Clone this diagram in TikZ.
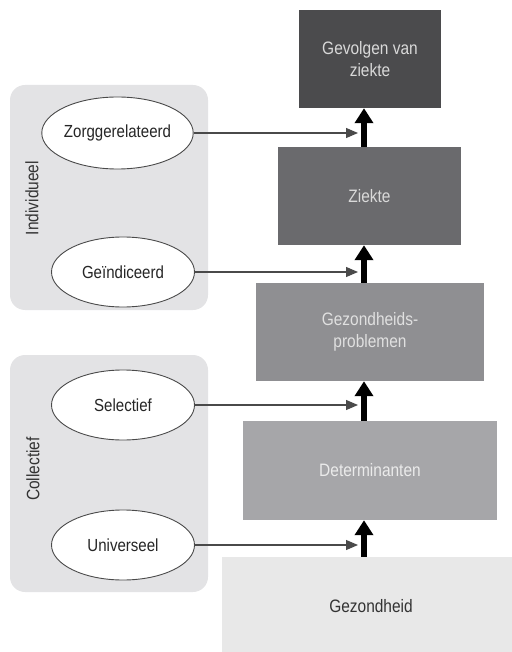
\documentclass[tikz,border=0pt]{standalone}
\usepackage{fontspec}
\setmainfont{Liberation Sans}[FakeStretch=0.86]
\usetikzlibrary{arrows.meta,shapes.geometric}
\definecolor{panelgray}{HTML}{E3E3E5}
\definecolor{linegray}{HTML}{4A4A4A}
\definecolor{lvlA}{HTML}{4B4B4D}
\definecolor{lvlB}{HTML}{6A6A6D}
\definecolor{lvlC}{HTML}{8F8F92}
\definecolor{lvlD}{HTML}{A6A6A9}
\definecolor{lvlE}{HTML}{E8E8E8}
\tikzset{
  lvlbox/.style={rectangle, inner sep=0pt, align=center, font=\fontsize{18}{22}\selectfont},
  prevell/.style={ellipse, draw=linegray, line width=0.9pt, fill=white, inner sep=0pt,
    minimum width=143pt, minimum height=70pt, font=\fontsize{17.5}{21}\selectfont, text=black!85},
  panel/.style={fill=panelgray, rounded corners=15pt},
  sidelabel/.style={rotate=90, font=\fontsize{18}{21}\selectfont, text=black!80},
  uparrow/.style={line width=6.5pt, -{Triangle[width=18pt,length=15pt]}},
  sidearrow/.style={draw=linegray, line width=1.1pt, -{Triangle[width=10pt,length=12pt]}}
}

\begin{document}
\begin{tikzpicture}[x=1pt,y=-1pt]
			%%%%% START %%%%%
			\useasboundingbox (0,0) rectangle (511,652);
			
			\fill[panel] (10,85) rectangle (208,310);
			\fill[panel] (10,355) rectangle (208,592);
			\node[sidelabel] (individueel) at (32,198) {Individueel};
			\node[sidelabel] (collectief) at (33,469) {Collectief};
			
			\node[lvlbox, fill=lvlA, text=white!85!black, minimum width=142pt, minimum height=98pt] (gevolgen) at (370,59) {Gevolgen van\\ziekte};
			\node[lvlbox, fill=lvlB, text=white!85!black, minimum width=183pt, minimum height=98pt] (ziekte) at (369.5,196) {Ziekte};
			\node[lvlbox, fill=lvlC, text=white!88!black, minimum width=228pt, minimum height=98pt] (problemen) at (370,332) {Gezondheids-\\problemen};
			\node[lvlbox, fill=lvlD, text=white!92!black, minimum width=254pt, minimum height=99pt] (determinanten) at (370,470.5) {Determinanten};
			\node[lvlbox, fill=lvlE, text=black!80, minimum width=298pt, minimum height=98pt] (gezondheid) at (371,606) {Gezondheid};
			
			\draw[uparrow] ([xshift=-5.5pt]ziekte.north) -- ([xshift=-6pt]gevolgen.south);
			\draw[uparrow] ([xshift=-6pt]problemen.north) -- ([xshift=-5.5pt]ziekte.south);
			\draw[uparrow] ([xshift=-6pt]determinanten.north) -- ([xshift=-6pt]problemen.south);
			\draw[uparrow] ([xshift=-7pt]gezondheid.north) -- ([xshift=-6pt]determinanten.south);
			
			\node[prevell, minimum width=135pt, minimum height=72pt] (zorg) at (117.5,133) {Zorggerelateerd};
			\node[prevell] (geind) at (123,272) {Geïndiceerd};
			\node[prevell] (selectief) at (123,405) {Selectief};
			\node[prevell] (universeel) at (123,545) {Universeel};
			
			\coordinate (tip) at (358,0);
			\draw[sidearrow] (zorg.east) -- (zorg.east -| tip);
			\draw[sidearrow] (geind.east) -- (geind.east -| tip);
			\draw[sidearrow] (selectief.east) -- (selectief.east -| tip);
			\draw[sidearrow] (universeel.east) -- (universeel.east -| tip);
			%%%%% END %%%%%
\end{tikzpicture}
\end{document}
